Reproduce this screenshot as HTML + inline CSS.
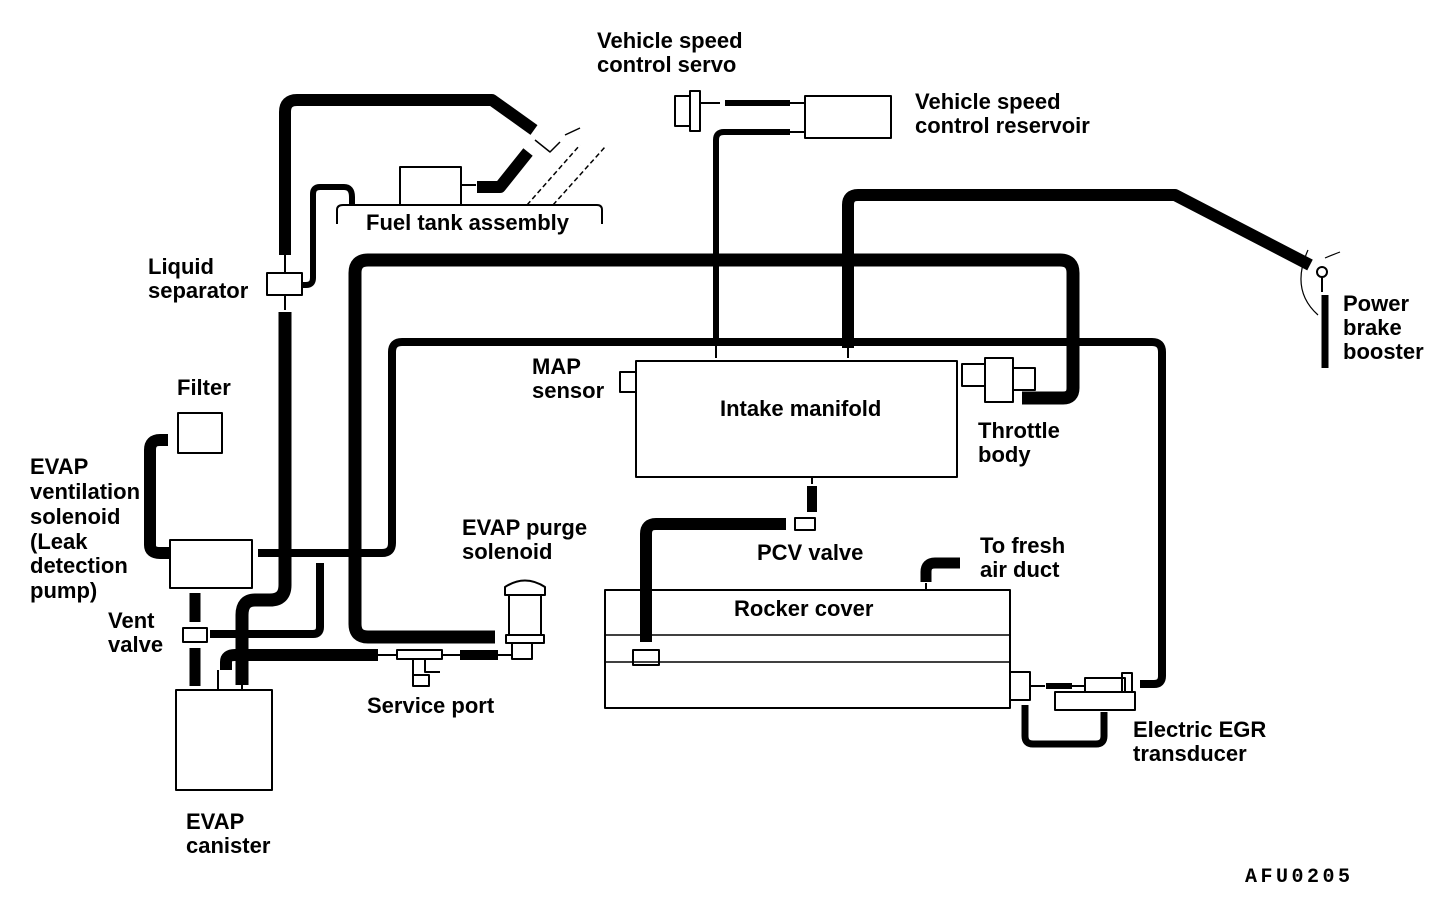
<!DOCTYPE html>
<html><head><meta charset="utf-8"><style>
body{margin:0;background:#fff}
svg{display:block}
text{font-family:"Liberation Sans",Arial,sans-serif;font-size:22px;font-weight:bold;fill:#000}
</style></head><body>
<svg width="1456" height="924" viewBox="0 0 1456 924">
<g fill="none" stroke="#000" stroke-linejoin="round" stroke-linecap="butt">
<path d="M285 255 V112 Q285 100 297 100 H492 L534 130" stroke-width="12"/>
<path d="M285 255 V272 M285 295 V310" stroke-width="2"/>
<rect x="267" y="273" width="35" height="22" stroke-width="2"/>
<path d="M285 312 V585 Q285 600 270 600 H255 Q242 600 242 615 V685" stroke-width="13"/>
<path d="M302 285 H306 Q313 285 313 278 V194 Q313 187 320 187 H344 Q352 187 352 197 V205" stroke-width="6"/>
<path d="M337 224 V210 Q337 205 343 205 H597 Q602 205 602 210 V224" stroke-width="2"/>
<rect x="400" y="167" width="61" height="38" stroke-width="2"/>
<path d="M461 185 H476" stroke-width="2"/>
<path d="M477 187 H500 L528 152" stroke-width="12"/>
<path d="M527 205 L580 145 M553 205 L605 147" stroke-width="1.5" stroke-dasharray="5 3"/>
<path d="M535 140 L550 152 L560 142 M565 135 L580 128" stroke-width="1.5"/>
<path d="M495 637 H368 Q355 637 355 624 V273 Q355 260 368 260 H1060 Q1073 260 1073 273 V388 Q1073 398 1063 398 H1022" stroke-width="13"/>
<path d="M258 553 H382 Q392 553 392 543 V352 Q392 342 402 342 H1152 Q1162 342 1162 352 V676 Q1162 684 1154 684 H1140" stroke-width="8"/>
<path d="M848 348 V205 Q848 195 858 195 H1175 L1310 265" stroke-width="12"/>
<path d="M848 348 V358 M716 345 V358" stroke-width="2"/>
<path d="M1325 295 V368" stroke-width="7"/>
<circle cx="1322" cy="272" r="5" stroke-width="2"/>
<path d="M1322 277 V292" stroke-width="2"/>
<path d="M1308 250 Q1290 290 1318 315" stroke-width="1.2"/>
<path d="M1325 258 Q1332 255 1340 252" stroke-width="1.2"/>
<path d="M716 345 V140 Q716 132 724 132 H790" stroke-width="6"/>
<path d="M700 103 H720 M790 103 H805 M790 132 H805" stroke-width="2"/>
<path d="M725 103 H790" stroke-width="6"/>
<rect x="805" y="96" width="86" height="42" stroke-width="2"/>
<rect x="675" y="96" width="15" height="30" stroke-width="2"/>
<rect x="690" y="91" width="10" height="40" stroke-width="2"/>
<rect x="636" y="361" width="321" height="116" stroke-width="2"/>
<rect x="620" y="372" width="16" height="20" stroke-width="2"/>
<rect x="962" y="364" width="23" height="22" stroke-width="2"/>
<rect x="985" y="358" width="28" height="44" stroke-width="2"/>
<rect x="1013" y="368" width="22" height="22" stroke-width="2"/>
<path d="M812 477 V484" stroke-width="2"/>
<path d="M812 486 V512" stroke-width="10"/>
<rect x="795" y="518" width="20" height="12" stroke-width="2"/>
<path d="M786 524 H656 Q646 524 646 534 V642" stroke-width="12"/>
<rect x="605" y="590" width="405" height="118" stroke-width="2"/>
<path d="M605 635 H1010 M605 662 H1010" stroke-width="1.5"/>
<rect x="633" y="650" width="26" height="15" stroke-width="2"/>
<path d="M926 590 V583" stroke-width="2"/>
<path d="M926 582 V572 Q926 563 935 563 H960" stroke-width="11"/>
<rect x="1010" y="672" width="20" height="28" stroke-width="2"/>
<path d="M1030 686 H1045" stroke-width="2"/>
<path d="M1046 686 H1072" stroke-width="6"/>
<path d="M1072 686 H1085" stroke-width="2"/>
<rect x="1085" y="678" width="40" height="14" stroke-width="2"/>
<rect x="1122" y="673" width="10" height="19" stroke-width="2"/>
<rect x="1055" y="692" width="80" height="18" stroke-width="2"/>
<path d="M1025 705 V736 Q1025 744 1033 744 H1096 Q1104 744 1104 736 V712" stroke-width="7"/>
<rect x="178" y="413" width="44" height="40" stroke-width="2"/>
<path d="M168 440 H160 Q150 440 150 450 V545 Q150 553 160 553 H170" stroke-width="12"/>
<rect x="170" y="540" width="82" height="48" stroke-width="2"/>
<path d="M195 593 V622 M195 648 V686" stroke-width="11"/>
<rect x="183" y="628" width="24" height="14" stroke-width="2"/>
<path d="M210 634 H313 Q320 634 320 627 V563" stroke-width="8"/>
<rect x="176" y="690" width="96" height="100" stroke-width="2"/>
<path d="M218 690 V670 M242 690 V685" stroke-width="2"/>
<path d="M226 670 V662 Q226 655 235 655 H378" stroke-width="12"/>
<rect x="397" y="650" width="45" height="9" stroke-width="2"/>
<path d="M378 655 H397 M442 655 H460" stroke-width="2"/>
<path d="M413 659 V678 M425 659 V672 H440" stroke-width="2"/>
<rect x="413" y="675" width="16" height="11" stroke-width="2"/>
<path d="M460 655 H498" stroke-width="10"/>
<path d="M498 655 H512" stroke-width="2"/>
<path d="M505 595 L505 587 Q525 574 545 587 L545 595 Z" stroke-width="2"/>
<rect x="509" y="595" width="32" height="40" stroke-width="2"/>
<rect x="506" y="635" width="38" height="8" stroke-width="2"/>
<rect x="512" y="643" width="20" height="16" stroke-width="2"/>
</g>
<text x="597" y="48">Vehicle speed</text>
<text x="597" y="72">control servo</text>
<text x="915" y="109">Vehicle speed</text>
<text x="915" y="133">control reservoir</text>
<text x="366" y="230">Fuel tank assembly</text>
<text x="148" y="274">Liquid</text>
<text x="148" y="298">separator</text>
<text x="1343" y="311">Power</text>
<text x="1343" y="335">brake</text>
<text x="1343" y="359">booster</text>
<text x="532" y="374">MAP</text>
<text x="532" y="398">sensor</text>
<text x="720" y="416">Intake manifold</text>
<text x="978" y="438">Throttle</text>
<text x="978" y="462">body</text>
<text x="177" y="395">Filter</text>
<text x="30" y="474">EVAP</text>
<text x="30" y="499">ventilation</text>
<text x="30" y="524">solenoid</text>
<text x="30" y="549">(Leak</text>
<text x="30" y="573">detection</text>
<text x="30" y="598">pump)</text>
<text x="108" y="628">Vent</text>
<text x="108" y="652">valve</text>
<text x="462" y="535">EVAP purge</text>
<text x="462" y="559">solenoid</text>
<text x="757" y="560">PCV valve</text>
<text x="980" y="553">To fresh</text>
<text x="980" y="577">air duct</text>
<text x="734" y="616">Rocker cover</text>
<text x="367" y="713">Service port</text>
<text x="1133" y="737">Electric EGR</text>
<text x="1133" y="761">transducer</text>
<text x="186" y="829">EVAP</text>
<text x="186" y="853">canister</text>
<text x="1245" y="882" style="font-family:'Liberation Mono',monospace;font-size:20px;font-weight:bold;letter-spacing:3.5px">AFU0205</text>
</svg>
</body></html>
